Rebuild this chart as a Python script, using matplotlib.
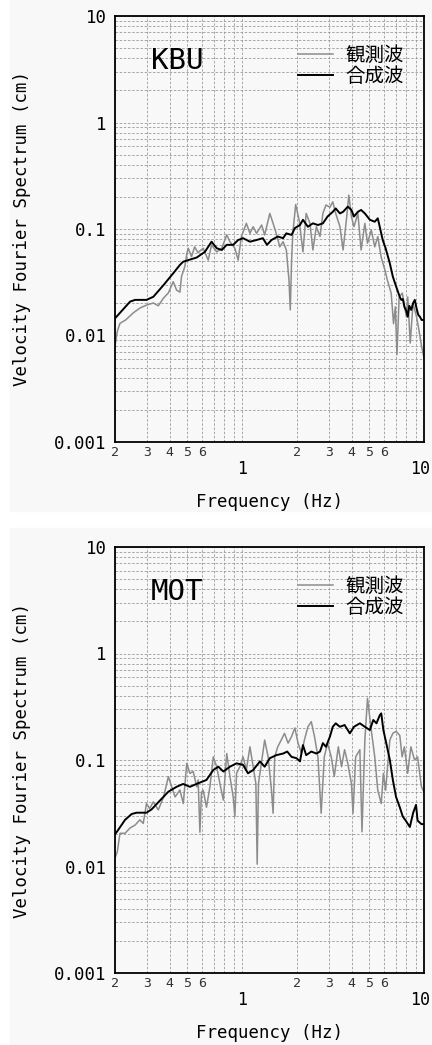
import numpy as np
import matplotlib
matplotlib.use("Agg")
import matplotlib.pyplot as plt
from matplotlib.ticker import LogLocator, FuncFormatter, NullFormatter, FixedLocator
from matplotlib.patches import Rectangle
from matplotlib.lines import Line2D
from matplotlib.transforms import ScaledTranslation

# KBU station: synthetic (black) and observed (gray) velocity Fourier spectra
kbu_syn_f = [0.2, 0.208, 0.242, 0.258, 0.298, 0.325, 0.37, 0.418, 0.455, 0.474, 0.505, 0.563, 0.624,
             0.679, 0.725, 0.773, 0.823, 0.893, 0.951, 1.012, 1.104, 1.2, 1.3, 1.37, 1.45, 1.57,
             1.68, 1.75, 1.87, 1.95, 2.08, 2.16, 2.3, 2.45, 2.61, 2.78, 2.95, 3.15, 3.27, 3.45,
             3.59, 3.81, 3.99, 4.12, 4.33, 4.51, 4.73, 5.04, 5.36, 5.57, 5.71, 5.93, 6.15, 6.49,
             6.74, 7.02, 7.36, 7.5, 7.65, 7.8, 8.0, 8.14, 8.3, 8.5, 8.7, 8.9, 9.1, 9.3, 9.5, 9.7,
             10.0]
kbu_syn_v = [0.0145, 0.0156, 0.0208, 0.0216, 0.0216, 0.0231, 0.0298, 0.0384, 0.046, 0.0493, 0.051,
             0.054, 0.061, 0.076, 0.066, 0.0635, 0.071, 0.071, 0.0788, 0.082, 0.076, 0.0788, 0.082,
             0.071, 0.0788, 0.085, 0.082, 0.091, 0.088, 0.102, 0.109, 0.122, 0.105, 0.113, 0.109,
             0.113, 0.131, 0.145, 0.156, 0.14, 0.145, 0.162, 0.151, 0.131, 0.145, 0.151, 0.14,
             0.122, 0.117, 0.126, 0.105, 0.0788, 0.066, 0.0475, 0.0357, 0.029, 0.023, 0.0216,
             0.022, 0.0186, 0.017, 0.015, 0.019, 0.0174, 0.020, 0.0216, 0.018, 0.0156, 0.015,
             0.014, 0.014]

kbu_obs_f = [0.2, 0.206, 0.213, 0.229, 0.252, 0.274, 0.298, 0.325, 0.346, 0.37, 0.393, 0.418, 0.436,
             0.455, 0.464, 0.484, 0.497, 0.505, 0.527, 0.548, 0.572, 0.611, 0.651, 0.679, 0.725,
             0.773, 0.823, 0.857, 0.912, 0.951, 0.991, 1.055, 1.104, 1.15, 1.2, 1.28, 1.33, 1.42,
             1.48, 1.54, 1.61, 1.68, 1.75, 1.81, 1.84, 1.87, 1.9, 1.97, 2.06, 2.16, 2.25, 2.36,
             2.45, 2.56, 2.68, 2.78, 2.89, 3.04, 3.15, 3.27, 3.45, 3.59, 3.74, 3.86, 3.99, 4.12,
             4.33, 4.51, 4.73, 4.89, 5.13, 5.36, 5.57, 5.82, 6.1, 6.29, 6.6, 6.8, 6.96, 7.1, 7.3,
             7.6, 8.0, 8.14, 8.4, 8.7, 9.1, 9.4, 9.7, 10.0]
kbu_obs_v = [0.0079, 0.011, 0.013, 0.014, 0.0163, 0.0181, 0.0193, 0.0202, 0.019, 0.0225, 0.0251,
             0.032, 0.0267, 0.0255, 0.0357, 0.0443, 0.059, 0.066, 0.055, 0.068, 0.060, 0.066, 0.051,
             0.071, 0.061, 0.066, 0.088, 0.076, 0.066, 0.051, 0.085, 0.113, 0.091, 0.105, 0.091,
             0.109, 0.088, 0.14, 0.113, 0.091, 0.068, 0.076, 0.0635, 0.033, 0.0174, 0.05, 0.091,
             0.17, 0.12, 0.061, 0.14, 0.113, 0.0635, 0.105, 0.085, 0.14, 0.168, 0.16, 0.18, 0.14,
             0.105, 0.0635, 0.12, 0.208, 0.131, 0.105, 0.14, 0.0635, 0.113, 0.0735, 0.098, 0.068,
             0.085, 0.054, 0.041, 0.033, 0.025, 0.0129, 0.0186, 0.0066, 0.023, 0.025, 0.015, 0.023,
             0.0085, 0.020, 0.015, 0.011, 0.0079, 0.0062]

# MOT station
mot_syn_f = [0.2, 0.208, 0.227, 0.247, 0.263, 0.298, 0.318, 0.355, 0.393, 0.436, 0.474, 0.516, 0.562,
             0.637, 0.694, 0.74, 0.788, 0.857, 0.932, 1.012, 1.077, 1.15, 1.253, 1.33, 1.42, 1.54,
             1.68, 1.77, 1.87, 1.99, 2.08, 2.16, 2.25, 2.4, 2.56, 2.68, 2.78, 2.89, 3.04, 3.15,
             3.27, 3.45, 3.66, 3.91, 4.12, 4.44, 4.73, 5.04, 5.26, 5.48, 5.71, 5.82, 5.98, 6.2,
             6.49, 6.74, 7.02, 7.36, 7.64, 7.93, 8.36, 8.72, 9.04, 9.22, 9.68, 10.0]
mot_syn_v = [0.020, 0.022, 0.0274, 0.0311, 0.032, 0.032, 0.0344, 0.042, 0.0504, 0.056, 0.0596, 0.056,
             0.0596, 0.065, 0.0805, 0.0865, 0.078, 0.0865, 0.093, 0.090, 0.075, 0.0805, 0.097,
             0.0865, 0.104, 0.111, 0.115, 0.120, 0.107, 0.104, 0.097, 0.138, 0.111, 0.120, 0.115,
             0.120, 0.144, 0.133, 0.166, 0.205, 0.221, 0.205, 0.213, 0.178, 0.205, 0.221, 0.205,
             0.191, 0.2375, 0.221, 0.263, 0.274, 0.191, 0.144, 0.100, 0.065, 0.045, 0.036, 0.0295,
             0.027, 0.0235, 0.032, 0.0379, 0.027, 0.025, 0.025]

mot_obs_f = [0.2, 0.206, 0.213, 0.227, 0.242, 0.258, 0.274, 0.286, 0.298, 0.31, 0.325, 0.346, 0.37,
             0.393, 0.41, 0.428, 0.455, 0.475, 0.496, 0.516, 0.538, 0.563, 0.573, 0.586, 0.598,
             0.611, 0.637, 0.665, 0.694, 0.725, 0.755, 0.788, 0.823, 0.857, 0.893, 0.912, 0.932,
             0.972, 1.012, 1.055, 1.104, 1.15, 1.19, 1.21, 1.23, 1.253, 1.33, 1.39, 1.45, 1.48,
             1.51, 1.57, 1.64, 1.71, 1.79, 1.87, 1.95, 2.03, 2.12, 2.2, 2.3, 2.4, 2.5, 2.61, 2.72,
             2.83, 2.95, 3.09, 3.21, 3.38, 3.52, 3.66, 3.81, 3.99, 4.07, 4.21, 4.44, 4.56, 4.73,
             4.89, 5.13, 5.36, 5.57, 5.82, 5.98, 6.15, 6.49, 6.74, 7.02, 7.36, 7.58, 7.8, 8.13,
             8.47, 8.87, 9.22, 9.68, 10.0]
mot_obs_v = [0.012, 0.0138, 0.0205, 0.0205, 0.023, 0.0245, 0.0274, 0.0254, 0.039, 0.035, 0.0405,
             0.034, 0.045, 0.0697, 0.056, 0.045, 0.0523, 0.039, 0.093, 0.075, 0.078, 0.056, 0.065,
             0.021, 0.050, 0.052, 0.036, 0.056, 0.107, 0.0865, 0.060, 0.042, 0.115, 0.070, 0.045,
             0.0294, 0.075, 0.0865, 0.107, 0.0805, 0.133, 0.0865, 0.060, 0.0105, 0.060, 0.075,
             0.154, 0.107, 0.052, 0.0316, 0.107, 0.133, 0.154, 0.178, 0.144, 0.166, 0.200, 0.144,
             0.115, 0.154, 0.205, 0.229, 0.166, 0.107, 0.0316, 0.107, 0.144, 0.107, 0.070, 0.133,
             0.0865, 0.125, 0.093, 0.060, 0.0316, 0.107, 0.125, 0.0212, 0.154, 0.380, 0.191, 0.107,
             0.052, 0.039, 0.075, 0.052, 0.154, 0.178, 0.186, 0.170, 0.107, 0.133, 0.075, 0.133,
             0.100, 0.107, 0.056, 0.050]

stations = ["KBU", "MOT"]
legend_labels = ["観測波", "合成波"]
minor_label_digits = [2, 3, 4, 5, 6]

OBS_COLOR = "#8c8c8c"
SYN_COLOR = "black"
PANEL_BG = "#f8f8f8"
MONO = "DejaVu Sans Mono"


def minor_label(v, pos):
    mant = int(round(v / 10 ** np.floor(np.log10(v) + 1e-9)))
    return str(mant) if mant in minor_label_digits else ""


def draw_panel(fig, ax, name, obs_f, obs_v, syn_f, syn_v):
    ax.set_facecolor("none")
    ax.plot(obs_f, obs_v, color=OBS_COLOR, lw=1.1, zorder=3)
    ax.plot(syn_f, syn_v, color=SYN_COLOR, lw=1.4, zorder=4)

    ax.set_xscale("log")
    ax.set_yscale("log")
    ax.set_xlim(0.2, 10)
    ax.set_ylim(0.001, 10)

    # labelled decades, labelled 2-6 minors on x, no tick marks
    ax.xaxis.set_major_locator(FixedLocator([1, 10]))
    ax.xaxis.set_major_formatter(FuncFormatter(lambda v, p: f"{v:g}"))
    ax.xaxis.set_minor_locator(LogLocator(base=10, subs=np.arange(2, 10), numticks=20))
    ax.xaxis.set_minor_formatter(FuncFormatter(minor_label))
    ax.yaxis.set_major_locator(LogLocator(base=10, numticks=10))
    ax.yaxis.set_major_formatter(FuncFormatter(lambda v, p: f"{v:g}"))
    ax.yaxis.set_minor_locator(LogLocator(base=10, subs=np.arange(2, 10), numticks=20))
    ax.yaxis.set_minor_formatter(NullFormatter())

    ax.tick_params(axis="both", which="both", length=0)
    ax.tick_params(axis="x", which="major", labelsize=12, pad=13)
    ax.tick_params(axis="x", which="minor", labelsize=9.5, pad=3, labelcolor="#333333")
    ax.tick_params(axis="y", which="major", labelsize=12.5, pad=6)
    for lab in ax.get_xticklabels(which="both") + ax.get_yticklabels():
        lab.set_family(MONO)

    # the "10" sits on the right border, nudge it inside the figure
    last = ax.xaxis.get_major_ticks()[-1].label1
    last.set_transform(last.get_transform() + ScaledTranslation(-3 / 72, 0, fig.dpi_scale_trans))

    ax.grid(True, which="both", color="#9a9a9a", lw=0.6, linestyle=(0, (3, 2)), zorder=1)
    for sp in ax.spines.values():
        sp.set_linewidth(1.3)
        sp.set_zorder(5)

    ax.set_xlabel("Frequency (Hz)", family=MONO, fontsize=12.5, va="center")
    ax.xaxis.set_label_coords(0.5, -0.141)
    ax.set_ylabel("Velocity Fourier Spectrum (cm)", family=MONO, fontsize=12.5, va="center")
    ax.yaxis.set_label_coords(-0.30, 0.5)

    ax.text(0.115, 0.895, name, transform=ax.transAxes, fontsize=21, va="center", ha="left",
            family=MONO)

    handles = [Line2D([], [], color=OBS_COLOR, lw=1.1), Line2D([], [], color=SYN_COLOR, lw=1.4)]
    ax.legend(handles, legend_labels, loc="upper right", bbox_to_anchor=(0.935, 0.932),
              frameon=False, prop={"family": "Noto Sans CJK JP", "size": 14},
              handlelength=1.8, handletextpad=0.65, labelspacing=0.0, borderpad=0,
              borderaxespad=0)


fig = plt.figure(figsize=(4.32, 10.45), dpi=100)
fig.patch.set_facecolor("white")
# light panel backgrounds
fig.patches.append(Rectangle((10 / 432, 1 - 511 / 1045), 422 / 432, 511 / 1045,
                             transform=fig.transFigure, color=PANEL_BG, zorder=-10))
fig.patches.append(Rectangle((10 / 432, 0), 422 / 432, 1 - 528 / 1045,
                             transform=fig.transFigure, color=PANEL_BG, zorder=-10))

ax_top = fig.add_axes([115 / 432, 1 - 442 / 1045, 309 / 432, 426 / 1045])
ax_bot = fig.add_axes([115 / 432, 1 - 973 / 1045, 309 / 432, 426 / 1045])

draw_panel(fig, ax_top, stations[0], kbu_obs_f, kbu_obs_v, kbu_syn_f, kbu_syn_v)
draw_panel(fig, ax_bot, stations[1], mot_obs_f, mot_obs_v, mot_syn_f, mot_syn_v)

fig.savefig("out.png", dpi=100)
